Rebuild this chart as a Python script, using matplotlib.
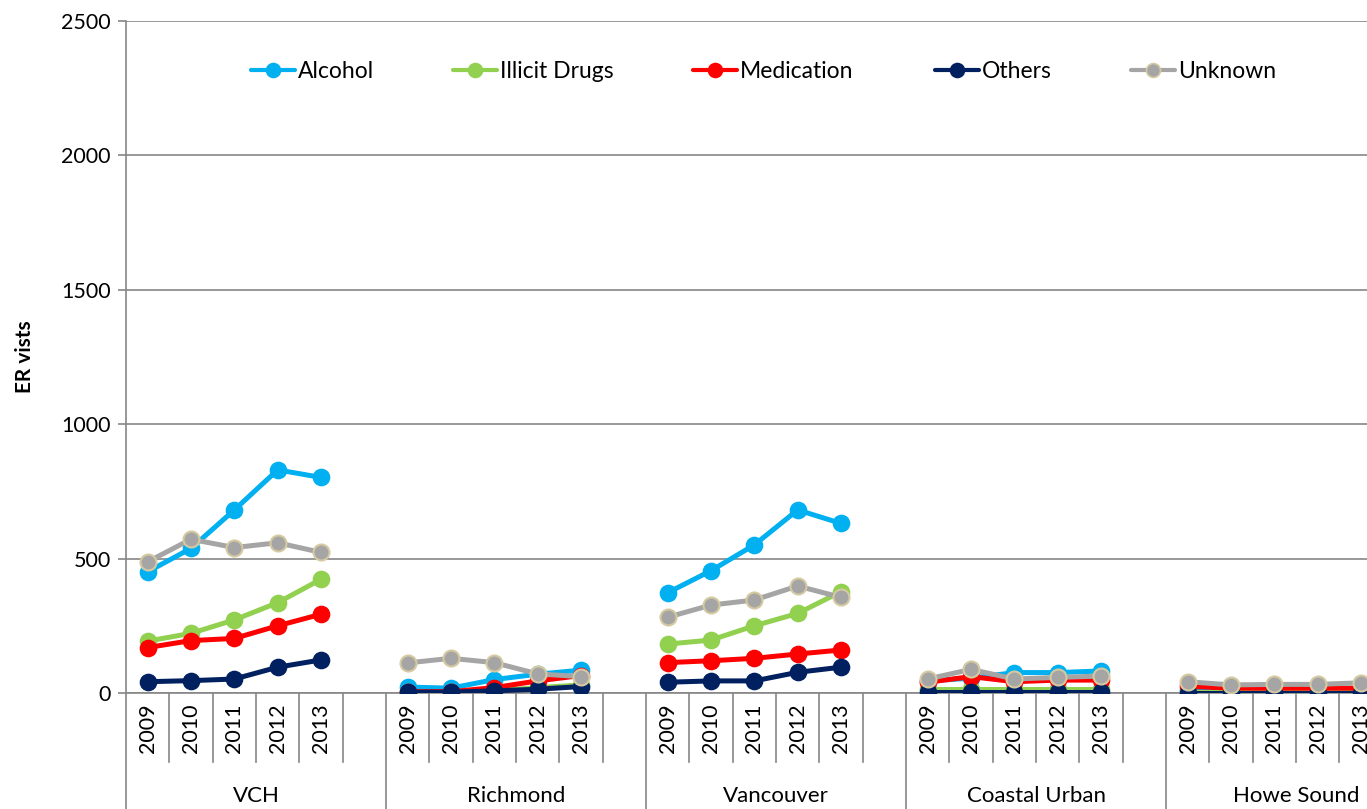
import matplotlib
matplotlib.use("Agg")
import matplotlib.pyplot as plt
from matplotlib.lines import Line2D
import matplotlib.transforms as mtransforms

plt.rcParams['font.family'] = ['Lato', 'DejaVu Sans']

groups = ["VCH", "Richmond", "Vancouver", "Coastal Urban", "Howe Sound"]
years = ["2009", "2010", "2011", "2012", "2013"]
series_names = ["Alcohol", "Illicit Drugs", "Medication", "Others", "Unknown"]
colors = ["#00B0F0", "#92D050", "#FF0000", "#002060", "#A5A5A5"]

alcohol = [[451, 538, 681, 830, 802],
           [22, 18, 50, 70, 85],
           [373, 455, 551, 681, 631],
           [45, 55, 76, 76, 82],
           [10, 8, 8, 8, 10]]
illicit = [[193, 222, 272, 336, 423],
           [2, 2, 8, 20, 30],
           [182, 197, 250, 296, 377],
           [15, 15, 15, 15, 15],
           [5, 5, 5, 5, 5]]
medication = [[169, 195, 203, 250, 293],
              [5, 5, 20, 45, 65],
              [113, 120, 129, 145, 160],
              [40, 61, 42, 48, 48],
              [25, 18, 18, 18, 18]]
others = [[42, 46, 52, 96, 123],
          [3, 3, 8, 14, 24],
          [40, 45, 45, 77, 96],
          [2, 2, 2, 2, 2],
          [1, 1, 1, 1, 1]]
unknown = [[488, 572, 541, 559, 523],
           [112, 129, 113, 71, 61],
           [282, 327, 346, 398, 356],
           [52, 88, 52, 58, 63],
           [42, 30, 32, 32, 38]]
all_series = [alcohol, illicit, medication, others, unknown]

W, H = 1367, 809
fig = plt.figure(figsize=(W / 100, H / 100), dpi=100)
ax_left, ax_right, ax_bottom, ax_top = 126, 1426, 693, 21
ax = fig.add_axes([ax_left / W, (H - ax_bottom) / H, (ax_right - ax_left) / W, (ax_bottom - ax_top) / H])

slots = 6
n_slots = slots * len(groups)
ax.set_xlim(-0.5, n_slots - 0.5)
ax.set_ylim(0, 2500)

grey = "#868686"
unk_edge = "#D4C9A0"
for s, (name, col) in enumerate(zip(series_names, colors)):
    for g in range(len(groups)):
        xs = [g * slots + i for i in range(len(years))]
        kw = dict(color=col, lw=3.6, marker="o", ms=11.5, markerfacecolor=col,
                  markeredgecolor=col, markeredgewidth=1.2, solid_capstyle="round", zorder=3 + s)
        if name == "Unknown":
            kw["markeredgecolor"] = unk_edge
            kw["markeredgewidth"] = 1.5
        ax.plot(xs, all_series[s][g], **kw)

ax.set_yticks([0, 500, 1000, 1500, 2000, 2500])
ax.yaxis.grid(True, color=grey, lw=1.2)
ax.set_axisbelow(True)
ax.tick_params(axis="y", length=6, width=1.2, color=grey, labelsize=15.5, pad=5)
ax.set_xticks([])
for sp in ["top", "right"]:
    ax.spines[sp].set_visible(False)
ax.spines["left"].set_color(grey)
ax.spines["left"].set_linewidth(1.2)
ax.spines["bottom"].set_color(grey)
ax.spines["bottom"].set_linewidth(1.2)

ax.set_ylabel("ER vists", fontsize=15, fontweight="bold", labelpad=19)

trans = mtransforms.blended_transform_factory(ax.transData, ax.transAxes)
px = 1.0 / (ax_bottom - ax_top)
for k in range(n_slots + 1):
    xb = k - 0.5
    if k % slots == 0:
        y_end = -(H - ax_bottom) * px
    else:
        y_end = -(762 - ax_bottom) * px
    ax.plot([xb, xb], [0, y_end], color=grey, lw=1.2, transform=trans, clip_on=False)

for g, gname in enumerate(groups):
    for i, yr in enumerate(years):
        ax.text(g * slots + i, -(728 - ax_bottom) * px, yr, rotation=90, ha="center", va="center",
                fontsize=15.5, transform=trans, clip_on=False)
    ax.text(g * slots + 2.5, -(796 - ax_bottom) * px, gname, ha="center", va="center",
            fontsize=16, transform=trans, clip_on=False)

# legend (manual placement, Excel-style)
legend_marker_px = [273, 475, 715, 957, 1153]
leg_y = (H - 70) / H
for name, col, mx in zip(series_names, colors, legend_marker_px):
    mec = unk_edge if name == "Unknown" else col
    fig.add_artist(Line2D([(mx - 22) / W, (mx + 22) / W], [leg_y, leg_y], color=col, lw=3,
                          solid_capstyle="round", transform=fig.transFigure))
    fig.add_artist(Line2D([mx / W], [leg_y], color=col, marker="o", ms=10, markerfacecolor=col,
                          markeredgecolor=mec, markeredgewidth=1.2, transform=fig.transFigure))
    fig.text((mx + 25) / W, leg_y - 1.5 / H, name, ha="left", va="center", fontsize=16.5)

fig.savefig("out.png", dpi=100)
